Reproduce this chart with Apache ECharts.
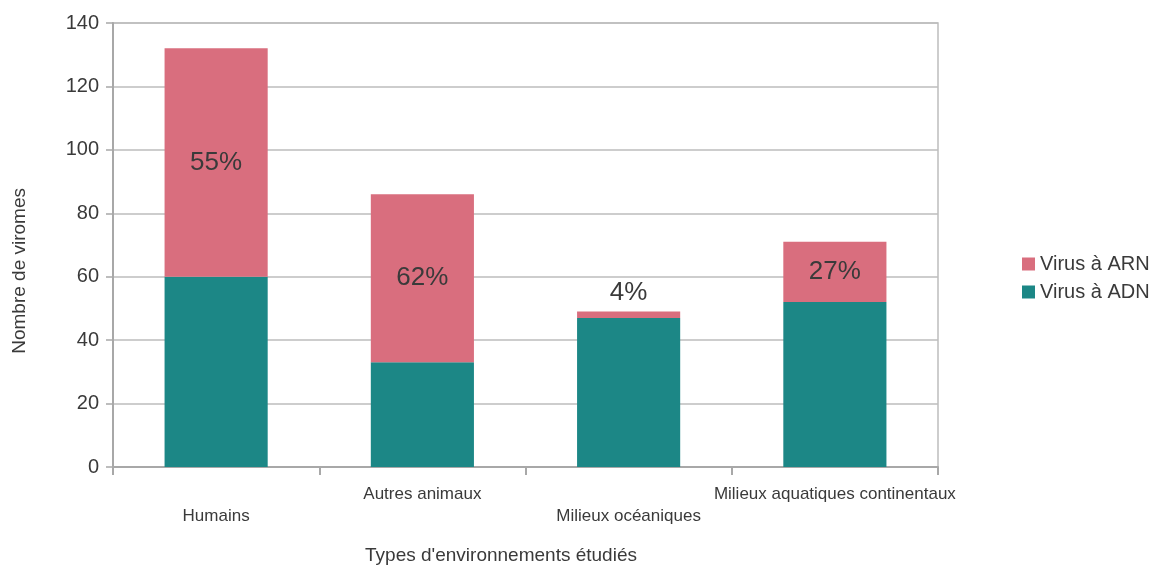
<!DOCTYPE html>
<html>
<head>
<meta charset="utf-8">
<script src="https://cdn.jsdelivr.net/npm/echarts@6/dist/echarts.min.js"></script>
<style>
  html, body { margin: 0; padding: 0; background: #fff; }
  #chart { width: 1169px; height: 566px; }
</style>
</head>
<body>
<div id="chart"></div>
<script>
// Number of viromes by studied environment, split by genome type
const categories = ['Humains', 'Autres animaux', 'Milieux océaniques', 'Milieux aquatiques continentaux'];
const adnValues = [60, 33, 47, 52];   // DNA viruses
const arnValues = [72, 53, 2, 19];    // RNA viruses
const yTicks = { min: 0, max: 140, interval: 20 };

const PINK = '#d96e7e';
const TEAL = '#1c8786';
const GRID_GRAY = '#bdbdbd';
const AXIS_GRAY = '#a8a8a8';
const TEXT = '#3a3a3a';
const FONT = '"Liberation Sans", Arial, sans-serif';

// Share of RNA viruses in each environment, shown as a percentage label
const arnShare = arnValues.map((v, i) => Math.round(v / (v + adnValues[i]) * 100));

const chart = echarts.init(document.getElementById('chart'), null, { renderer: 'canvas' });

chart.setOption({
  animation: false,
  backgroundColor: '#fff',
  textStyle: { fontFamily: FONT },
  title: {
    text: "Types d'environnements étudiés",
    left: 496,
    top: 541,
    textAlign: 'center',
    textStyle: { fontSize: 19, fontWeight: 'normal', color: TEXT, fontFamily: FONT }
  },
  graphic: [{
    type: 'text',
    left: 10,
    top: 188,
    rotation: Math.PI / 2,
    style: {
      text: 'Nombre de viromes',
      font: '19px ' + FONT,
      fill: TEXT
    }
  }],
  legend: {
    orient: 'vertical',
    left: 1017,
    top: 249,
    itemWidth: 13,
    itemHeight: 13,
    itemGap: 8,
    icon: 'rect',
    textStyle: { fontSize: 20, color: TEXT, fontFamily: FONT },
    data: ['Virus à ARN', 'Virus à ADN']
  },
  grid: {
    left: 113,
    right: 231,
    top: 23,
    bottom: 99,
    show: true,
    borderColor: GRID_GRAY,
    borderWidth: 1.5
  },
  xAxis: {
    type: 'category',
    data: categories,
    boundaryGap: true,
    axisLine: { show: true, lineStyle: { color: AXIS_GRAY, width: 2 } },
    axisTick: { show: true, alignWithLabel: false, length: 8, lineStyle: { color: AXIS_GRAY, width: 2 } },
    axisLabel: {
      interval: 0,
      margin: 16,
      fontSize: 17,
      lineHeight: 22,
      color: TEXT,
      formatter: (v, i) => (i % 2 === 0 ? '\n' + v : v)
    }
  },
  yAxis: {
    type: 'value',
    min: yTicks.min,
    max: yTicks.max,
    interval: yTicks.interval,
    axisLine: { show: true, lineStyle: { color: AXIS_GRAY, width: 2 } },
    axisTick: { show: true, length: 7, lineStyle: { color: AXIS_GRAY, width: 1.5 } },
    axisLabel: { fontSize: 20, color: TEXT, margin: 14 },
    splitLine: { show: true, lineStyle: { color: GRID_GRAY, width: 1.5 } }
  },
  series: [
    {
      name: 'Virus à ADN',
      type: 'bar',
      stack: 'total',
      barWidth: '50%',
      itemStyle: { color: TEAL },
      data: adnValues
    },
    {
      name: 'Virus à ARN',
      type: 'bar',
      stack: 'total',
      barWidth: '50%',
      itemStyle: { color: PINK },
      data: arnValues.map((v, i) => ({
        value: v,
        label: {
          show: true,
          position: v < 5 ? 'top' : 'inside',
          distance: 6,
          formatter: arnShare[i] + '%',
          fontSize: 26,
          color: TEXT
        }
      }))
    }
  ]
});
</script>
</body>
</html>
